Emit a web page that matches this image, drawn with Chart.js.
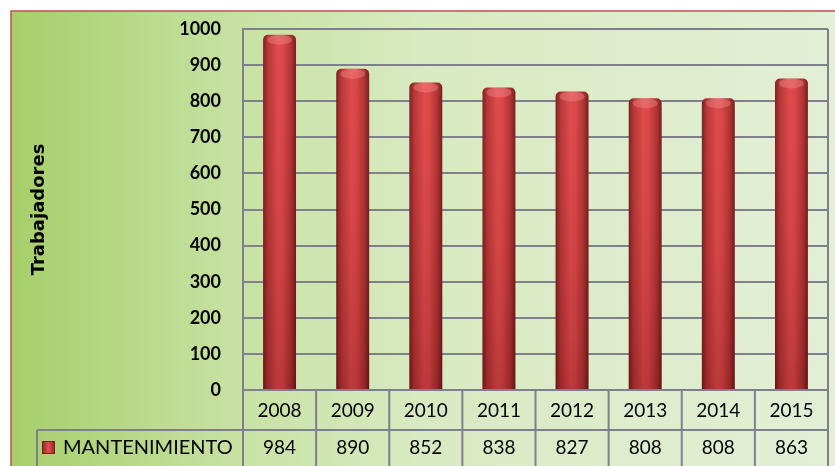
<!DOCTYPE html>
<html>
<head>
<meta charset="utf-8">
<script src="https://cdn.jsdelivr.net/npm/chart.js@4.4.1/dist/chart.umd.min.js"></script>
<style>
  html, body { margin: 0; padding: 0; background: #fff; }
  #wrap { width: 835px; height: 466px; }
</style>
</head>
<body>
<div id="wrap"><canvas id="chart" width="835" height="466"></canvas></div>
<script>
// data
const years = ['2008', '2009', '2010', '2011', '2012', '2013', '2014', '2015'];
const mantenimiento = [984, 890, 852, 838, 827, 808, 808, 863];
const seriesName = 'MANTENIMIENTO';
const yTicks = [0, 100, 200, 300, 400, 500, 600, 700, 800, 900, 1000];

const gridColor = '#80808c';

// background + outer border
const bgPlugin = {
    id: 'bg',
    beforeDraw(chart) {
        const ctx = chart.ctx;
        const w = chart.width, h = chart.height;
        const g = ctx.createLinearGradient(11, 0, w, 0);
        g.addColorStop(0, '#a6cf6a');
        g.addColorStop(0.28, '#c8e2a4');
        g.addColorStop(0.5, '#d8eac1');
        g.addColorStop(1, '#e3efd6');
        ctx.save();
        ctx.fillStyle = '#fff';
        ctx.fillRect(0, 0, w, h);
        ctx.fillStyle = g;
        ctx.fillRect(11, 11, w - 11, h - 11);
        ctx.strokeStyle = '#c0504d';
        ctx.lineWidth = 1.5;
        ctx.beginPath();
        ctx.moveTo(11, h);
        ctx.lineTo(11, 11);
        ctx.lineTo(w, 11);
        ctx.stroke();
        ctx.restore();
    }
};

// shading on top of the bars (cylinder look)
const barShade = {
    id: 'barShade',
    afterDatasetsDraw(chart) {
        const ctx = chart.ctx;
        const meta = chart.getDatasetMeta(0);
        ctx.save();
        meta.data.forEach(bar => {
            const left = bar.x - bar.width / 2;
            const g = ctx.createLinearGradient(0, bar.y, 0, bar.base);
            g.addColorStop(0, 'rgba(255,90,90,0.10)');
            g.addColorStop(1, 'rgba(90,10,10,0.25)');
            ctx.fillStyle = g;
            ctx.fillRect(left, bar.y + 2, bar.width, bar.base - bar.y - 2);
            // top cap highlight
            ctx.fillStyle = 'rgba(255,170,170,0.30)';
            ctx.beginPath();
            ctx.ellipse(bar.x, bar.y + 5, bar.width / 2 - 4, 5, 0, 0, Math.PI * 2);
            ctx.fill();
        });
        ctx.restore();
    }
};

// data table under the axis
const dataTable = {
    id: 'dataTable',
    afterDraw(chart) {
        const ctx = chart.ctx;
        const xs = chart.scales.x;
        const area = chart.chartArea;
        const n = years.length;
        const step = (area.right - area.left) / n;
        const rowTop = area.bottom;
        const row2 = rowTop + 40;
        const bottom = chart.height;
        ctx.save();
        ctx.strokeStyle = gridColor;
        ctx.lineWidth = 2;
        ctx.beginPath();
        // right border of plot + table
        ctx.moveTo(area.right, area.top);
        ctx.lineTo(area.right, bottom);
        // column separators
        for (let i = 0; i <= n; i++) {
            const x = area.left + step * i;
            ctx.moveTo(x, rowTop);
            ctx.lineTo(x, bottom);
        }
        // second row line + legend cell
        ctx.moveTo(37, row2);
        ctx.lineTo(area.right, row2);
        ctx.moveTo(37, row2);
        ctx.lineTo(37, bottom);
        ctx.stroke();

        // values
        ctx.fillStyle = '#000';
        ctx.font = '19px Lato';
        ctx.textAlign = 'center';
        ctx.textBaseline = 'middle';
        const cy = row2 + 18;
        mantenimiento.forEach((v, i) => {
            ctx.fillText(String(v), xs.getPixelForValue(i), cy);
        });

        // legend key
        const sq = ctx.createLinearGradient(42, 0, 55, 0);
        sq.addColorStop(0, '#8e2424');
        sq.addColorStop(0.5, '#e05050');
        sq.addColorStop(1, '#8e2424');
        ctx.fillStyle = sq;
        ctx.fillRect(42, cy - 7, 13, 13);
        ctx.strokeStyle = '#7a1f1f';
        ctx.lineWidth = 1;
        ctx.strokeRect(42.5, cy - 6.5, 12, 12);
        ctx.fillStyle = '#000';
        ctx.font = '20px Lato';
        ctx.textAlign = 'left';
        ctx.fillText(seriesName, 63, cy);
        ctx.restore();
    }
};

function barGradient(context) {
    const chart = context.chart;
    const xs = chart.scales.x;
    if (!chart.chartArea || !xs || context.dataIndex === undefined) return '#c94040';
    const cx = xs.getPixelForValue(context.dataIndex);
    const half = (xs.width / years.length) * 0.45 / 2;
    if (!isFinite(cx) || !isFinite(half)) return '#c94040';
    const g = chart.ctx.createLinearGradient(cx - half, 0, cx + half, 0);
    g.addColorStop(0, '#6e1a1a');
    g.addColorStop(0.15, '#b03434');
    g.addColorStop(0.45, '#dc4a4c');
    g.addColorStop(0.6, '#d84648');
    g.addColorStop(0.85, '#a83030');
    g.addColorStop(1, '#651818');
    return g;
}

new Chart(document.getElementById('chart'), {
    type: 'bar',
    data: {
        labels: years,
        datasets: [{
            label: seriesName,
            data: mantenimiento,
            backgroundColor: barGradient,
            borderWidth: 0,
            borderRadius: { topLeft: 5, topRight: 5 },
            borderSkipped: 'bottom',
            barPercentage: 0.45,
            categoryPercentage: 1
        }]
    },
    options: {
        responsive: false,
        animation: false,
        layout: { padding: { left: 11, top: 29, right: 7, bottom: 0 } },
        plugins: {
            legend: { display: false },
            tooltip: { enabled: false }
        },
        scales: {
            y: {
                min: 0, max: 1000,
                afterBuildTicks(scale) { scale.ticks = yTicks.map(v => ({ value: v })); },
                afterFit(scale) {
                    scale.width = 232;
                    // the rotated title inflates these; keep the plot top where the padding puts it
                    scale.paddingTop = 0;
                    scale.paddingBottom = 0;
                },
                ticks: {
                    color: '#000',
                    font: { family: 'Lato', size: 18, weight: 'bold' },
                    padding: 22,
                    callback: v => String(v)
                },
                grid: { color: gridColor, lineWidth: 2, drawTicks: false },
                border: { display: true, color: gridColor, width: 2 },
                title: {
                    display: true,
                    text: 'Trabajadores',
                    color: '#000',
                    font: { family: 'DejaVu Sans', size: 18, weight: 'bold' },
                    padding: { top: 18, bottom: 0 }
                }
            },
            x: {
                afterFit(scale) { scale.height = 76; },
                ticks: {
                    color: '#000',
                    font: { family: 'Lato', size: 19 },
                    padding: 9,
                    maxRotation: 0
                },
                grid: { display: false, drawTicks: false },
                border: { display: true, color: gridColor, width: 2 }
            }
        }
    },
    plugins: [bgPlugin, barShade, dataTable]
});
</script>
</body>
</html>
